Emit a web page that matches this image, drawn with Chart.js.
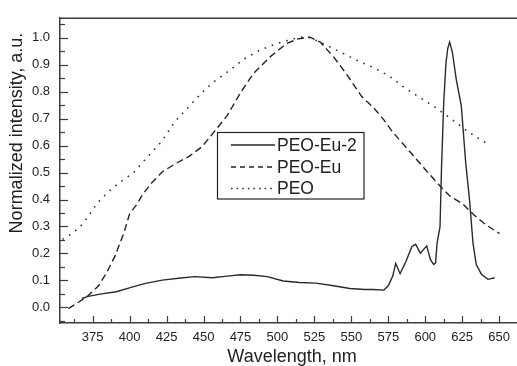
<!DOCTYPE html>
<html>
<head>
<meta charset="utf-8">
<script src="https://cdn.jsdelivr.net/npm/chart.js@4.4.1/dist/chart.umd.min.js"></script>
<style>
  html, body { margin: 0; padding: 0; background: #fff; }
  #wrap { width: 517px; height: 366px; }
</style>
</head>
<body>
<div id="wrap"><canvas id="chart" width="517" height="366"></canvas></div>
<script>
// ---- data ----
const seriesNames = ['PEO-Eu-2', 'PEO-Eu', 'PEO'];

const peoEu2Wl = [367.7, 372, 381, 391, 401, 410, 422, 433, 444, 456, 466, 475, 484, 493, 504, 515, 526, 538, 549, 559,
  565, 572, 575, 578, 580, 583, 587, 591, 593.5, 596.7, 601, 603.5, 605.7, 607, 608, 610, 611, 612.5, 614, 615.2,
  616.5, 618.3, 621, 624.4, 627.3, 630, 632.3, 634.5, 638, 642.4, 647];
const peoEu2Val = [0.033, 0.041, 0.05, 0.058, 0.074, 0.088, 0.101, 0.108, 0.114, 0.110, 0.116, 0.121, 0.119, 0.114, 0.098, 0.092, 0.090, 0.080, 0.070, 0.066,
  0.066, 0.064, 0.080, 0.116, 0.163, 0.125, 0.171, 0.226, 0.234, 0.201, 0.228, 0.177, 0.159, 0.165, 0.238, 0.299, 0.517, 0.760, 0.905, 0.960,
  0.984, 0.948, 0.845, 0.747, 0.541, 0.396, 0.238, 0.159, 0.123, 0.104, 0.110];

const peoEuWl = [358.6, 365.4, 372, 379, 384.5, 390, 396, 400, 405, 409, 415, 422, 431, 440, 449, 457, 466, 475, 484, 495,
  506, 514, 522, 529, 538, 547, 557, 565, 571.5, 578, 589.5, 601, 611, 616.5, 625.5, 633.4, 641.3, 650.3];
const peoEuVal = [-0.005, 0.019, 0.044, 0.08, 0.129, 0.189, 0.274, 0.347, 0.383, 0.42, 0.462, 0.502, 0.533, 0.559, 0.596, 0.650, 0.711, 0.796, 0.869, 0.929,
  0.978, 0.996, 1.002, 0.984, 0.929, 0.863, 0.782, 0.741, 0.699, 0.650, 0.578, 0.505, 0.444, 0.414, 0.383, 0.341, 0.305, 0.274];

const peoWl = [354.6, 361, 366, 371, 378, 383, 388, 393, 398.5, 403.7, 408, 417, 422, 428.5, 433, 442, 451.6, 456.6, 466.7, 477,
  488, 499.4, 510.6, 519.7, 528.7, 540, 553.5, 565.8, 576, 586, 597.4, 607.5, 617.7, 627.8, 639, 644.2];
const peoVal = [0.252, 0.274, 0.296, 0.329, 0.386, 0.414, 0.440, 0.462, 0.483, 0.505, 0.533, 0.587, 0.618, 0.672, 0.703, 0.756, 0.811, 0.835, 0.875, 0.92,
  0.954, 0.978, 0.996, 1.005, 0.984, 0.954, 0.917, 0.887, 0.857, 0.814, 0.775, 0.739, 0.699, 0.656, 0.616, 0.602];

const xTicks = [375, 400, 425, 450, 475, 500, 525, 550, 575, 600, 625, 650];
const yTicks = [0.0, 0.1, 0.2, 0.3, 0.4, 0.5, 0.6, 0.7, 0.8, 0.9, 1.0];

// ---- helpers ----
const FONT = "'Liberation Sans', Arial, sans-serif";
const INK = '#222';
const AXIS = '#3c3c3c';

function toPoints(xs, ys) {
  return xs.map((x, i) => ({ x: x, y: ys[i] }));
}

// inward ticks, top frame, axis titles and the boxed legend
const decorPlugin = {
  id: 'decor',
  afterDraw(chart) {
    const ctx = chart.ctx;
    const a = chart.chartArea;
    const xs = chart.scales.x;
    const ys = chart.scales.y;
    ctx.save();

    // top frame line
    ctx.strokeStyle = AXIS;
    ctx.lineWidth = 1.5;
    ctx.beginPath();
    ctx.moveTo(a.left, a.top + 0.5);
    ctx.lineTo(a.right + 2, a.top + 0.5);
    ctx.stroke();

    // x ticks (major + minor), pointing up
    ctx.lineWidth = 1.2;
    const xStep = xTicks[1] - xTicks[0];
    for (let v = xTicks[0] - xStep / 2; v <= xs.max; v += xStep / 2) {
      if (v < xs.min) continue;
      const px = Math.round(xs.getPixelForValue(v)) + 0.5;
      const major = xTicks.includes(v);
      ctx.beginPath();
      ctx.moveTo(px, a.bottom);
      ctx.lineTo(px, a.bottom - (major ? 7 : 4));
      ctx.stroke();
    }
    // y ticks, pointing right
    const yStep = 0.1;
    for (let k = -1; k <= 21; k++) {
      const v = k * yStep / 2;
      if (v < ys.min || v > ys.max) continue;
      const py = Math.round(ys.getPixelForValue(v)) + 0.5;
      const major = k % 2 === 0;
      ctx.beginPath();
      ctx.moveTo(a.left, py);
      ctx.lineTo(a.left + (major ? 8 : 5), py);
      ctx.stroke();
    }

    // axis titles
    ctx.fillStyle = INK;
    ctx.font = '18px ' + FONT;
    ctx.textAlign = 'center';
    ctx.textBaseline = 'alphabetic';
    ctx.fillText('Wavelength, nm', 292, 361.5);
    ctx.save();
    ctx.translate(22, 133);
    ctx.rotate(-Math.PI / 2);
    ctx.fillText('Normalized intensity, a.u.', 0, 0);
    ctx.restore();

    // legend box
    ctx.fillStyle = '#fff';
    ctx.fillRect(217.5, 132.5, 146.5, 66.5);
    ctx.strokeStyle = INK;
    ctx.lineWidth = 1.2;
    ctx.strokeRect(217.5, 132.5, 146.5, 66.5);
    const rows = [145, 167, 188.5];
    chart.data.datasets.forEach((ds, i) => {
      const y = rows[i];
      ctx.strokeStyle = ds.borderColor;
      ctx.lineWidth = ds.borderWidth;
      ctx.setLineDash(ds.legendDash || []);
      ctx.beginPath();
      ctx.moveTo(231, y);
      ctx.lineTo(275, y);
      ctx.stroke();
      ctx.setLineDash([]);
      ctx.fillStyle = INK;
      ctx.font = '17.5px ' + FONT;
      ctx.textAlign = 'left';
      ctx.textBaseline = 'middle';
      ctx.fillText(ds.label, 277, y + 1);
    });

    ctx.restore();
  }
};

new Chart(document.getElementById('chart'), {
  type: 'line',
  data: {
    datasets: [
      {
        label: seriesNames[0],
        data: toPoints(peoEu2Wl, peoEu2Val),
        borderColor: '#2a2a2a',
        borderWidth: 1.4,
        legendDash: []
      },
      {
        label: seriesNames[1],
        data: toPoints(peoEuWl, peoEuVal),
        borderColor: '#222',
        borderWidth: 1.4,
        borderDash: [7, 4],
        legendDash: [5, 4]
      },
      {
        label: seriesNames[2],
        data: toPoints(peoWl, peoVal),
        borderColor: '#333',
        borderWidth: 1.6,
        borderDash: [1.6, 6],
        legendDash: [1.6, 4]
      }
    ]
  },
  options: {
    responsive: false,
    animation: false,
    events: [],
    layout: { padding: { top: 12, right: 0, left: 0, bottom: 0 } },
    elements: {
      point: { radius: 0 },
      line: { tension: 0, fill: false }
    },
    plugins: {
      legend: { display: false },
      tooltip: { enabled: false }
    },
    scales: {
      x: {
        type: 'linear',
        min: 352.9,
        max: 661.7,
        afterFit: (s) => { s.height = 43; },
        afterBuildTicks: (s) => { s.ticks = xTicks.map(v => ({ value: v })); },
        grid: { display: false, drawTicks: false },
        border: { display: true, color: AXIS, width: 1.5 },
        ticks: {
          padding: 7,
          color: INK,
          font: { family: FONT, size: 13 },
          maxRotation: 0,
          autoSkip: false
        }
      },
      y: {
        type: 'linear',
        min: -0.058,
        max: 1.074,
        afterFit: (s) => { s.width = 60; },
        afterBuildTicks: (s) => { s.ticks = yTicks.map(v => ({ value: v })); },
        grid: { display: false, drawTicks: false },
        border: { display: true, color: AXIS, width: 1.5 },
        ticks: {
          padding: 10,
          color: INK,
          font: { family: FONT, size: 13 },
          autoSkip: false,
          callback: (v) => Number(v).toFixed(1)
        }
      }
    }
  },
  plugins: [decorPlugin]
});
</script>
</body>
</html>
